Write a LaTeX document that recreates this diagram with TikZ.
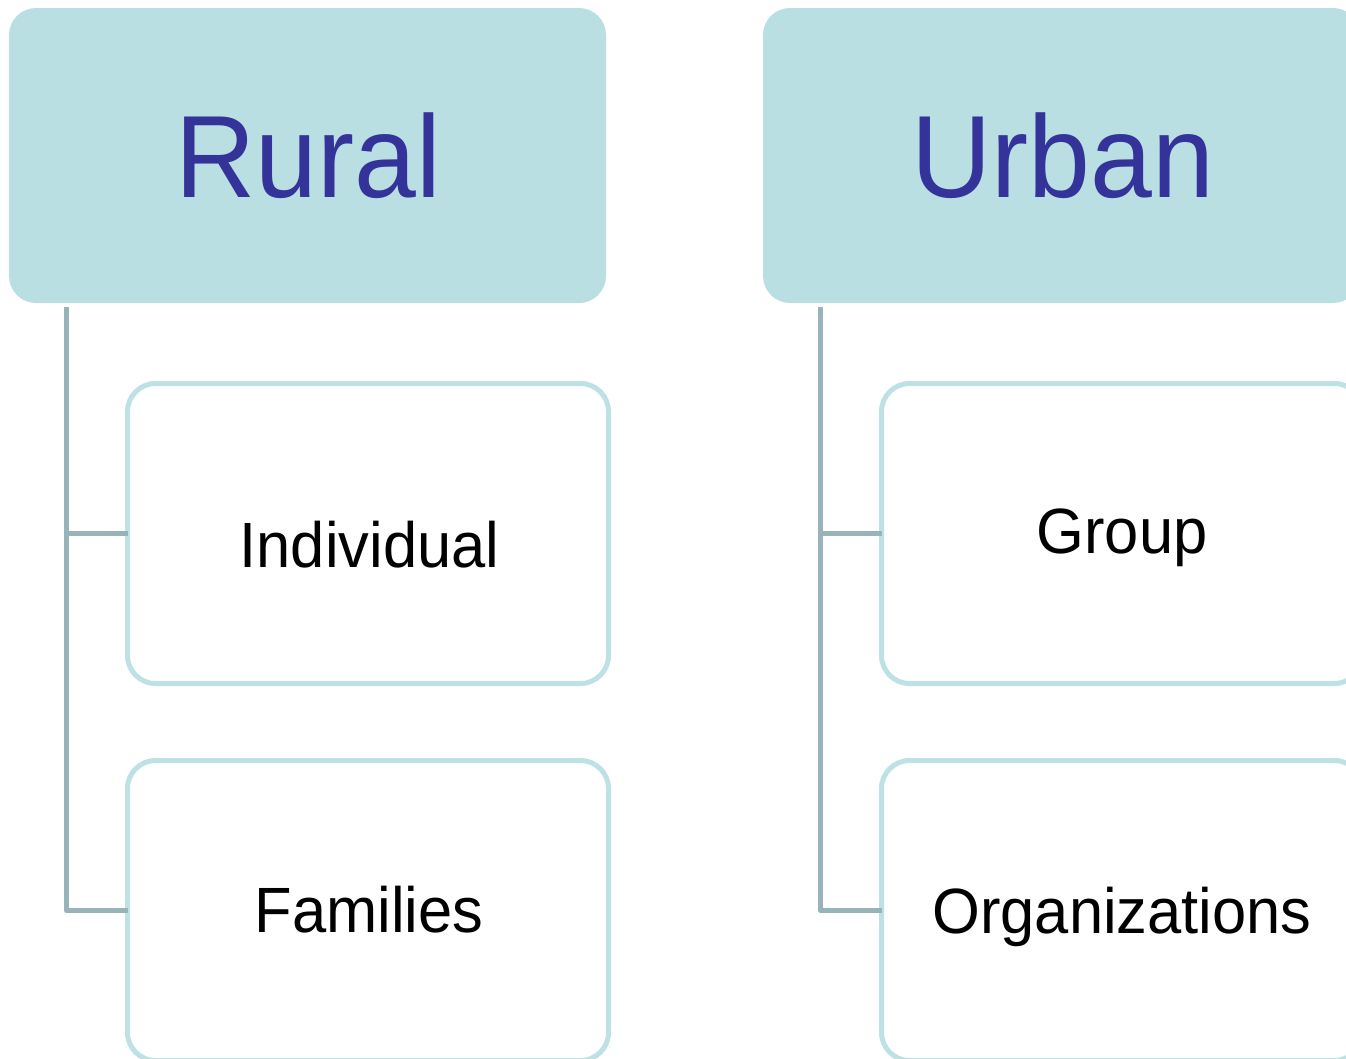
\documentclass[tikz,border=0pt]{standalone}
\usepackage{fontspec}
\setmainfont{Liberation Sans}
\newfontfamily\titlefont[FakeStretch=0.95]{Liberation Sans}
\newfontfamily\itemfont[FakeStretch=0.96]{Liberation Sans}
\definecolor{titlefill}{HTML}{B9DFE2}
\definecolor{childline}{HTML}{BDE1E4}
\definecolor{connline}{HTML}{97B5B8}
\definecolor{titletext}{HTML}{333399}
\begin{document}
\begin{tikzpicture}[x=1pt,y=-1pt,
  titlebox/.style={rectangle, rounded corners=27pt, fill=titlefill, draw=none,
    minimum width=597pt, minimum height=295pt, inner sep=0pt, outer sep=0pt},
  childbox/.style={rectangle, rounded corners=28pt, draw=childline, line width=5pt, fill=white,
    minimum width=481pt, minimum height=300pt, inner sep=0pt, outer sep=0pt},
  conn/.style={draw=connline, line width=5pt, line join=round},
  titlelabel/.style={anchor=base, inner sep=0pt, text=titletext, font=\titlefont\fontsize{117}{140}\selectfont},
  itemlabel/.style={anchor=base, inner sep=0pt, text=black, font=\itemfont\fontsize{64}{77}\selectfont}]
\useasboundingbox (0,0) rectangle (1346,1058);
\clip (0,0) rectangle (1346,1058);

\node[titlebox] (rural) at (307.5,155.5) {};
\node[titlebox] (urban) at (1061.5,155.5) {};

\node[childbox] (indiv) at (368,533.5) {};
\node[childbox] (fam) at (368,910.5) {};
\node[childbox] (group) at (1122,533.5) {};
\node[childbox] (org) at (1122,910.5) {};

\node[titlelabel] (tr) at (308.5,197) {Rural};
\node[titlelabel] (tu) at (1063,197) {Urban};
\node[itemlabel] (ti) at (369.5,567) {Individual};
\node[itemlabel] (tf) at (369,932) {Families};
\node[itemlabel] (tg) at (1122,553) {Group};
\node[itemlabel] (to) at (1122,933) {Organizations};

\coordinate (rtop) at ([xshift=57.5pt,yshift=-4pt]rural.south west);
\coordinate (utop) at ([xshift=57.5pt,yshift=-4pt]urban.south west);
\draw[conn] (rtop) |- (indiv.west);
\draw[conn] (rtop) |- (fam.west);
\draw[conn] (utop) |- (group.west);
\draw[conn] (utop) |- (org.west);
\end{tikzpicture}
\end{document}
